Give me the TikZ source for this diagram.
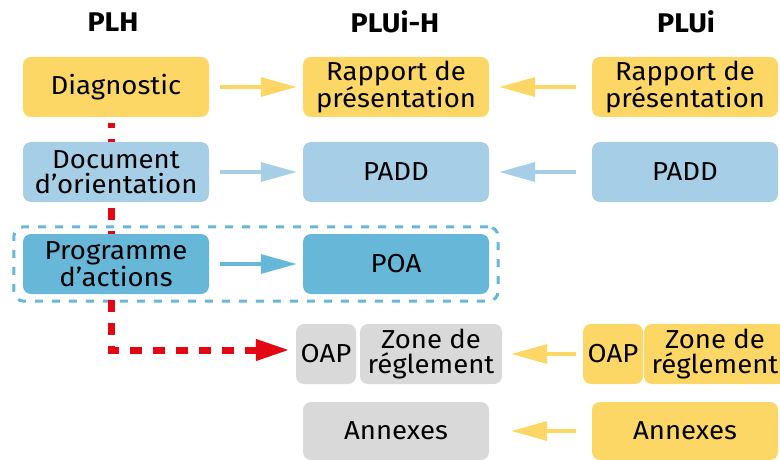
\documentclass[tikz,border=0pt]{standalone}
\usepackage{fontspec}
\setmainfont[FakeStretch=1.06]{Fira Sans}
\usetikzlibrary{arrows.meta,fit,backgrounds}
\definecolor{jaune}{RGB}{253,215,102}
\definecolor{bleuclair}{RGB}{166,206,230}
\definecolor{bleu}{RGB}{103,183,217}
\definecolor{gris}{RGB}{217,217,217}
\definecolor{rouge}{RGB}{227,6,19}
\begin{document}
\begin{tikzpicture}
[x=1pt,y=-1pt,%
  every node/.style={inner sep=0pt,align=center,font=\fontsize{26}{24.5}\selectfont},%
  box/.style={rounded corners=8pt,minimum width=186pt,minimum height=60pt},%
  titre/.style={font=\fontsize{27}{27}\selectfont\bfseries},%
  fleche/.style={line width=3.3pt,-{Triangle[length=36pt,width=19pt]}}]
\useasboundingbox (0,0) rectangle (780,460);
\node[titre] (plh) at (113,22) {PLH};
\node[titre] (pluih) at (395,22) {PLUi-H};
\node[titre] (plui) at (686,22) {PLUi};
\node[box,fill=jaune] (diag) at (116,87) {Diagnostic};
\node[box,fill=bleuclair] (doc) at (116,172) {Document\\d’orientation};
\node[box,fill=bleu] (prog) at (116,264) {Programme\\d’actions};
\node[box,fill=jaune] (rapm) at (396,87) {Rapport de\\présentation};
\node[box,fill=bleuclair] (paddm) at (396,172) {PADD};
\node[box,fill=bleu] (poa) at (396,264) {POA};
\node[box,fill=gris,minimum width=60pt] (oapm) at (326,354) {OAP};
\node[box,fill=gris,minimum width=142pt] (zonem) at (431,354) {Zone de\\réglement};
\node[box,fill=gris,minimum height=58pt] (annm) at (396,431) {Annexes};
\node[box,fill=jaune] (rapr) at (685,87) {Rapport de\\présentation};
\node[box,fill=bleuclair] (paddr) at (685,172) {PADD};
\node[box,fill=jaune,minimum width=60pt] (oapr) at (613,354) {OAP};
\node[box,fill=jaune,minimum width=142pt] (zoner) at (715,354) {Zone de\\réglement};
\node[box,fill=jaune,minimum height=58pt] (annr) at (685,431) {Annexes};
\begin{scope}[on background layer]
\node[fit=(prog)(poa),inner xsep=9pt,inner ysep=7pt,draw=bleu,line width=3pt,
  dash pattern=on 8pt off 9pt,rounded corners=10pt] (cadre) {};
\draw[rouge,line width=7pt,dash pattern=on 12pt off 11pt,dash phase=7pt,
  -{Triangle[length=34pt,width=20pt]},shorten >=6pt]
  ([xshift=-5pt,yshift=-6pt]diag.south) |- ([yshift=4pt]oapm.west);
\end{scope}
\draw[fleche,jaune,shorten <=11pt,shorten >=6pt] (diag) -- (rapm);
\draw[fleche,bleuclair,shorten <=11pt,shorten >=6pt] (doc) -- (paddm);
\draw[fleche,bleu,shorten <=11pt,shorten >=6pt] (prog) -- (poa);
\draw[fleche,jaune,shorten <=16pt,shorten >=10pt] (rapr) -- (rapm);
\draw[fleche,bleuclair,shorten <=16pt,shorten >=10pt] (paddr) -- (paddm);
\draw[fleche,jaune,shorten <=7pt,shorten >=9pt] (oapr) -- (zonem);
\draw[fleche,jaune,shorten <=16pt,shorten >=22pt] (annr) -- (annm);
\end{tikzpicture}
\end{document}
